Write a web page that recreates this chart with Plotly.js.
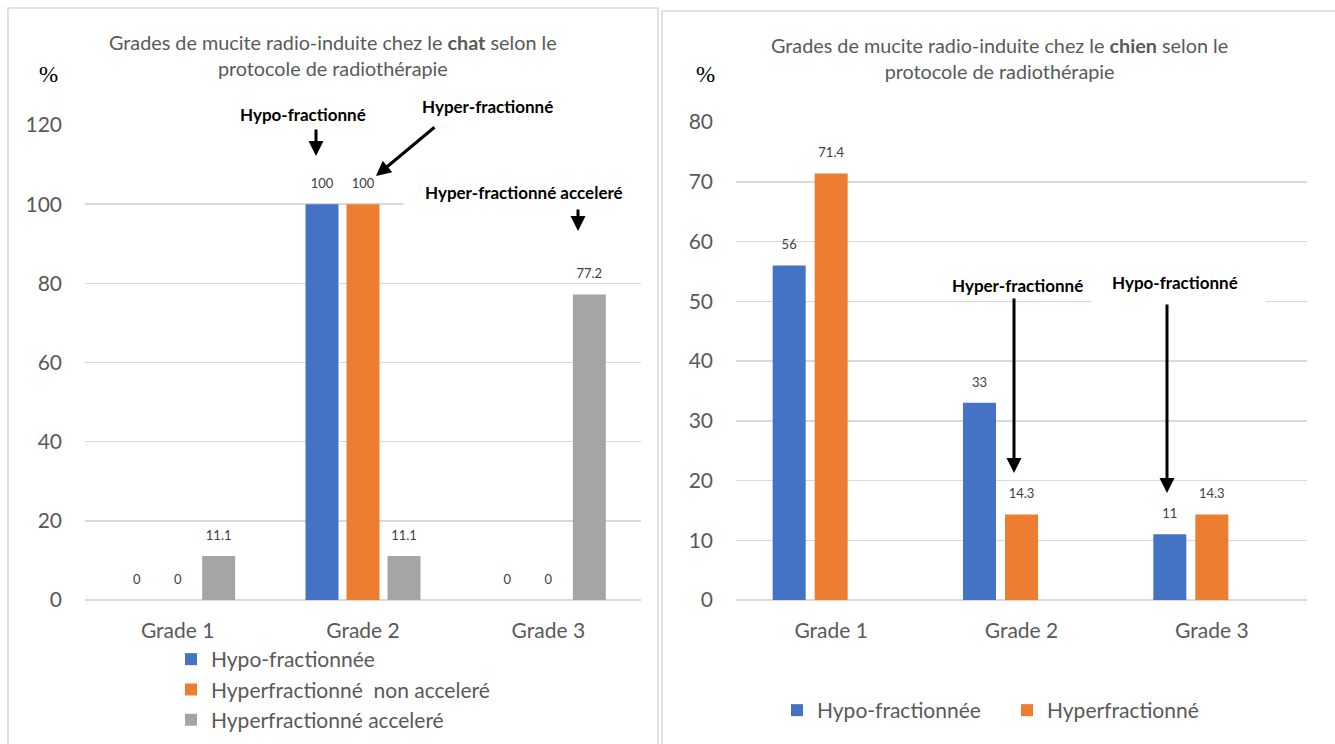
<!DOCTYPE html>
<html><head><meta charset="utf-8">
<script src="https://cdn.plot.ly/plotly-3.0.1.min.js"></script>
<style>html,body{margin:0;padding:0;background:#fff}#chart{width:1335px;height:744px}</style>
</head><body><div id="chart"></div>
<script>
// ---- data ----
const grades = ['Grade 1', 'Grade 2', 'Grade 3'];
const chatHypo = [0, 100, 0];
const chatHyperNonAcc = [0, 100, 0];
const chatHyperAcc = [11.1, 11.1, 77.2];
const chienHypo = [56, 33, 11];
const chienHyper = [71.4, 14.3, 14.3];
const legendChat = ['Hypo-fractionnée', 'Hyperfractionné\u00A0 non acceleré', 'Hyperfractionné acceleré'];
const legendChien = ['Hypo-fractionnée', 'Hyperfractionné'];

// ---- style ----
const W = 1335, H = 744;
const px = x => x / W, py = y => 1 - y / H;
const BLUE = '#4472C4', ORANGE = '#ED7D31', GRAY = '#A5A5A5';
const FONT = 'Lato, "Open Sans", sans-serif';
const idx = grades.map((_, i) => i);

const slotL = 0.2212, wL = 0.178;
const slotR = 0.2207, wR = 0.1734;

function barTrace(vals, name, color, xa, ya, off, w, legend) {
  return {type: 'bar', x: idx, y: vals, name: name, xaxis: xa, yaxis: ya,
    offset: off, width: w, marker: {color: color}, legend: legend, hoverinfo: 'skip'};
}
function labelTrace(vals, xa, ya, shift) {
  return {type: 'scatter', mode: 'markers+text', x: idx.map(i => i + shift), y: vals,
    text: vals.map(v => String(v)), textposition: 'top center',
    textfont: {family: FONT, size: 13, color: '#404040'},
    marker: {size: 19, opacity: 0}, showlegend: false, xaxis: xa, yaxis: ya, hoverinfo: 'skip'};
}

const data = [
  barTrace(chatHypo, legendChat[0], BLUE, 'x', 'y', -slotL - wL / 2, wL, 'legend'),
  barTrace(chatHyperNonAcc, legendChat[1], ORANGE, 'x', 'y', -wL / 2, wL, 'legend'),
  barTrace(chatHyperAcc, legendChat[2], GRAY, 'x', 'y', slotL - wL / 2, wL, 'legend'),
  labelTrace(chatHypo, 'x', 'y', -slotL),
  labelTrace(chatHyperNonAcc, 'x', 'y', 0),
  labelTrace(chatHyperAcc, 'x', 'y', slotL),
  barTrace(chienHypo, legendChien[0], BLUE, 'x2', 'y2', -slotR - wR / 2, wR, 'legend2'),
  barTrace(chienHyper, legendChien[1], ORANGE, 'x2', 'y2', -wR / 2, wR, 'legend2'),
  labelTrace(chienHypo, 'x2', 'y2', -slotR),
  labelTrace(chienHyper, 'x2', 'y2', 0)
];

const tickFont = {family: FONT, size: 21, color: '#595959'};
const catFont = {family: FONT, size: 21, color: '#595959'};
function xAxis(domain, anchor) {
  return {domain: domain, anchor: anchor, range: [-0.5, 2.5], tickvals: idx, ticktext: grades,
    showgrid: false, zeroline: false, showline: false, ticks: '', tickfont: catFont,
    ticklabelstandoff: 16, fixedrange: true};
}
function yAxis(domain, anchor, maxv, dt) {
  return {domain: domain, anchor: anchor, range: [0, maxv], dtick: dt, tick0: 0,
    showgrid: true, gridcolor: '#D9D9D9', gridwidth: 1.5, zeroline: true, zerolinecolor: '#D9D9D9',
    zerolinewidth: 1.5, showline: false, ticks: '', tickfont: tickFont, ticklabelstandoff: 22, fixedrange: true};
}

const boldFont = {family: FONT, size: 17, color: '#000000'};
function box(cx, cy, w, h) {
  return {xref: 'paper', yref: 'paper', x: px(cx), y: py(cy), xanchor: 'center', yanchor: 'middle',
    text: ' ', showarrow: false, bgcolor: '#FFFFFF', width: w, height: h, borderpad: 0};
}
function label(t, cx, cy) {
  return {xref: 'paper', yref: 'paper', x: px(cx), y: py(cy), xanchor: 'center', yanchor: 'middle',
    text: '<b>' + t + '</b>', showarrow: false, font: boldFont};
}
function arrow(tx, ty, hx, hy) {
  return {xref: 'paper', yref: 'paper', x: px(hx), y: py(hy), ax: tx - hx, ay: ty - hy,
    axref: 'pixel', ayref: 'pixel', text: '', showarrow: true, arrowhead: 2, arrowsize: 1,
    arrowwidth: 3, arrowcolor: '#000000', standoff: 0, startstandoff: 0};
}
const titleFont = {family: FONT, size: 19.8, color: '#595959'};
const pctFont = {family: '"Liberation Serif", serif', size: 23, color: '#000000'};

const annotations = [
  // white text boxes hiding gridlines
  box(310, 113, 180, 40), box(487.5, 111, 175, 44), box(524, 195, 240, 40), box(1178, 290, 173, 36),
  // titles
  {xref: 'paper', yref: 'paper', x: px(333), y: py(55), xanchor: 'center', yanchor: 'middle', showarrow: false,
   text: 'Grades de mucite radio-induite chez le <b>chat</b> selon le<br>protocole de radiothérapie', font: titleFont},
  {xref: 'paper', yref: 'paper', x: px(999), y: py(58), xanchor: 'center', yanchor: 'middle', showarrow: false,
   text: 'Grades de mucite radio-induite chez le <b>chien</b> selon le<br>protocole de radiothérapie', font: titleFont},
  {xref: 'paper', yref: 'paper', x: px(48), y: py(74), xanchor: 'center', yanchor: 'middle', showarrow: false,
   text: '%', font: pctFont},
  {xref: 'paper', yref: 'paper', x: px(705), y: py(74), xanchor: 'center', yanchor: 'middle', showarrow: false,
   text: '%', font: pctFont},
  // bold callouts
  label('Hypo-fractionné', 303, 115), label('Hyper-fractionné', 487, 107), label('Hyper-fractionné acceleré', 524, 192),
  label('Hyper-fractionné', 1017, 285), label('Hypo-fractionné', 1175, 282),
  // arrows
  arrow(316, 128, 316, 156), arrow(436, 126, 376, 176), arrow(578, 208, 578, 231),
  arrow(1014, 297, 1014, 473), arrow(1167, 303, 1167, 493)
];

const shapes = [
  {type: 'rect', xref: 'paper', yref: 'paper', x0: px(8), x1: px(658), y0: py(8), y1: py(760),
   line: {color: '#D9D9D9', width: 1.5}, fillcolor: 'rgba(0,0,0,0)', layer: 'below'},
  {type: 'rect', xref: 'paper', yref: 'paper', x0: px(662), x1: px(1345), y0: py(11), y1: py(760),
   line: {color: '#D9D9D9', width: 1.5}, fillcolor: 'rgba(0,0,0,0)', layer: 'below'}
];

const legendFont = {family: FONT, size: 21, color: '#595959'};
const layout = {
  width: W, height: H, margin: {l: 0, r: 0, t: 0, b: 0}, paper_bgcolor: '#FFFFFF', plot_bgcolor: 'rgba(0,0,0,0)',
  barmode: 'overlay', showlegend: true,
  xaxis: xAxis([px(85), px(641)], 'y'),
  yaxis: yAxis([py(600), py(125)], 'x', 120, 20),
  xaxis2: xAxis([px(736), px(1307)], 'y2'),
  yaxis2: yAxis([py(600), py(122)], 'x2', 80, 10),
  legend: {x: px(171), y: py(639), xanchor: 'left', yanchor: 'top', orientation: 'v', font: legendFont,
    bgcolor: 'rgba(0,0,0,0)', traceorder: 'normal'},
  legend2: {x: px(777), y: py(690), xanchor: 'left', yanchor: 'top', orientation: 'h', font: legendFont,
    bgcolor: 'rgba(0,0,0,0)', traceorder: 'normal', entrywidth: 185},
  annotations: annotations, shapes: shapes
};
Plotly.newPlot('chart', data, layout, {displayModeBar: false, staticPlot: true});
</script></body></html>
